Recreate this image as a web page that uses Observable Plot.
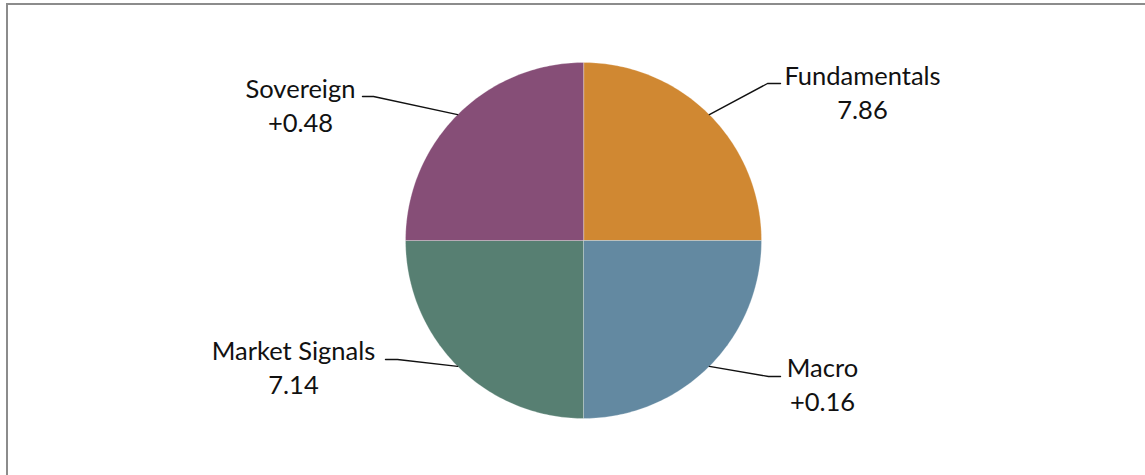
<!DOCTYPE html>
<html><head><meta charset="utf-8">
<script src="https://cdn.jsdelivr.net/npm/d3@7"></script>
<script src="https://cdn.jsdelivr.net/npm/@observablehq/plot@0.6"></script>
<style>
html,body{margin:0;padding:0;background:#fff;}
#wrap{position:relative;width:1145px;height:475px;overflow:hidden;}
#frame{position:absolute;left:6px;top:3px;width:2000px;height:2000px;border-top:2px solid #8c8c8c;border-left:2px solid #8c8c8c;pointer-events:none;z-index:2;}
</style></head><body><div id="wrap"><div id="frame"></div></div>
<script>
// ---- data ----
const categories = ["Fundamentals", "Macro", "Market Signals", "Sovereign"];
const sliceWeights = [1, 1, 1, 1];
const valueLabels = ["7.86", "+0.16", "7.14", "+0.48"];
const colors = ["#D08832", "#6389A1", "#577F72", "#864E77"];

// ---- layout (pixels relative to pie centre, y down) ----
const W = 1145, H = 475, CX = 583, CY = 240, R = 178;
const layout = {
  "Fundamentals":   {elbow: [184, -157], end: [197, -157], label: [279, -122]},
  "Macro":          {elbow: [185, 136],  end: [197, 136],  label: [239, 170]},
  "Market Signals": {elbow: [-186, 119], end: [-198, 119], label: [-290, 153]},
  "Sovereign":      {elbow: [-210, -144], end: [-221, -144], label: [-283, -109]}
};
const toU = ([px, py]) => ({x: px / R, y: -py / R});

const arcs = d3.pie().sort(null).value((d, i) => sliceWeights[i])(categories);

const piePts = [];
arcs.forEach((a, i) => {
  const name = categories[i];
  piePts.push({name, x: 0, y: 0});
  const n = 90;
  for (let k = 0; k <= n; k++) {
    const t = a.startAngle + (a.endAngle - a.startAngle) * k / n;
    piePts.push({name, x: Math.sin(t), y: Math.cos(t)});
  }
});

const leaderPts = [];
const labels = [];
arcs.forEach((a, i) => {
  const name = categories[i];
  const mid = (a.startAngle + a.endAngle) / 2;
  const L = layout[name];
  leaderPts.push({name, x: Math.sin(mid), y: Math.cos(mid)});
  leaderPts.push({name, ...toU(L.elbow)});
  leaderPts.push({name, ...toU(L.end)});
  labels.push({name, value: valueLabels[i], ...toU(L.label)});
});

const FS = 25.5;
const chart = Plot.plot({
  width: W, height: H,
  margin: 0,
  x: {domain: [-CX / R, (W - CX) / R], axis: null},
  y: {domain: [-(H - CY) / R, CY / R], axis: null},
  color: {domain: categories, range: colors},
  style: {fontFamily: "Lato, sans-serif", background: "transparent"},
  marks: [
    Plot.line(piePts, {x: "x", y: "y", z: "name", fill: "name", stroke: "white", strokeWidth: 0.6, strokeOpacity: 0.45, curve: "linear-closed"}),
    Plot.line(leaderPts, {x: "x", y: "y", z: "name", stroke: "#111", strokeWidth: 1.4}),
    Plot.text(labels, {x: "x", y: "y", text: d => d.name + "\n" + d.value, textAnchor: "middle", lineAnchor: "bottom", lineHeight: 34 / FS, fontSize: FS, fontFamily: "Lato", fill: "#111"})
  ]
});
document.getElementById("wrap").prepend(chart);
</script></body></html>
